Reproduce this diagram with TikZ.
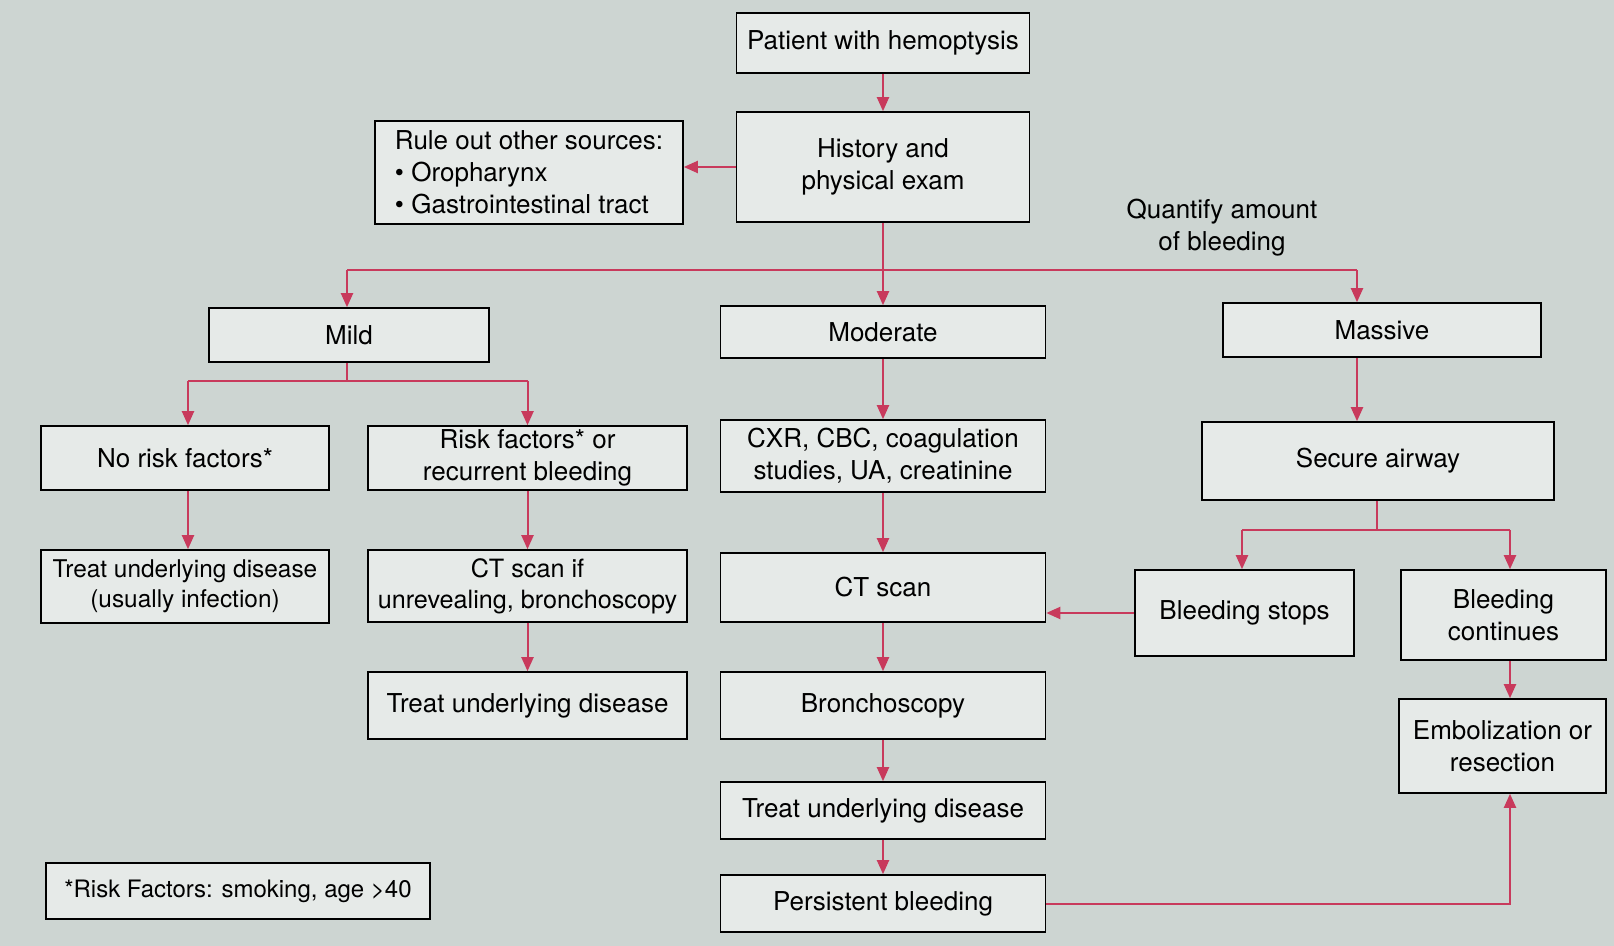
\documentclass[tikz,border=0pt]{standalone}
\usepackage{fontspec}
\setmainfont{TeX Gyre Heros}
\usetikzlibrary{arrows.meta}
\definecolor{paper}{HTML}{CDD5D2}
\definecolor{boxfill}{HTML}{E6EAE8}
\definecolor{arrowc}{HTML}{C83A5C}
\begin{document}
\begin{tikzpicture}[x=0.5pt,y=-0.5pt,
  box/.style={draw=black, line width=0.8pt, fill=boxfill, inner sep=0pt, align=center,
    font=\fontsize{13}{16}\selectfont},
  ln/.style={draw=arrowc, line width=1pt},
  arr/.style={draw=arrowc, line width=1pt, -{Triangle[length=7pt,width=6pt]}},
  lbl/.style={align=center, font=\fontsize{13}{16}\selectfont}]
\fill[paper] (0,0) rectangle (1614,946);
\useasboundingbox (0,0) rectangle (1614,946);

% top
\node[box, minimum width=146.5pt, minimum height=30pt] (patient) at (883,43) {Patient with hemoptysis};
\node[box, minimum width=146.5pt, minimum height=55pt] (history) at (883,167) {History and\\physical exam};
\node[box, minimum width=154pt, minimum height=51.5pt, align=left] (ruleout) at (529,172.5) {Rule out other sources:\\\textbullet\ Oropharynx\\\textbullet\ Gastrointestinal tract};
\node[lbl] (quantify) at (1222,228) {Quantify amount\\of bleeding};

% second row
\node[box, minimum width=140pt, minimum height=27pt] (mild) at (349,335) {Mild};
\node[box, minimum width=162.5pt, minimum height=26pt] (moderate) at (883,332) {Moderate};
\node[box, minimum width=159pt, minimum height=27pt] (massive) at (1382,330) {Massive};

% mild branch
\node[box, minimum width=144pt, minimum height=32pt] (norisk) at (185,458) {No risk factors*};
\node[box, minimum width=159.5pt, minimum height=32pt] (riskf) at (527.5,458) {Risk factors* or\\recurrent bleeding};
\node[box, minimum width=144pt, minimum height=36.5pt, font=\fontsize{12.2}{15}\selectfont] (treatinf) at (185,586.5) {Treat underlying disease\\(usually infection)};
\node[box, minimum width=159.5pt, minimum height=36pt, font=\fontsize{12.6}{15.5}\selectfont] (ctif) at (527.5,586) {CT scan if\\unrevealing, bronchoscopy};
\node[box, minimum width=159.5pt, minimum height=33.5pt] (treatL) at (527.5,705.5) {Treat underlying disease};

% moderate column
\node[box, minimum width=162.5pt, minimum height=36pt] (cxr) at (883,456) {CXR, CBC, coagulation\\studies, UA, creatinine};
\node[box, minimum width=162.5pt, minimum height=34.5pt] (ct) at (883,587.5) {CT scan};
\node[box, minimum width=162.5pt, minimum height=33.5pt] (bronch) at (883,705.5) {Bronchoscopy};
\node[box, minimum width=162.5pt, minimum height=28.5pt] (treatM) at (883,810.5) {Treat underlying disease};
\node[box, minimum width=162.5pt, minimum height=28.5pt] (persist) at (883,903.5) {Persistent bleeding};

% massive column
\node[box, minimum width=176pt, minimum height=39pt] (airway) at (1378,461) {Secure airway};
\node[box, minimum width=109.5pt, minimum height=43pt] (stops) at (1244.5,613) {Bleeding stops};
\node[box, minimum width=102.5pt, minimum height=45pt] (continues) at (1503.5,615) {Bleeding\\continues};
\node[box, minimum width=103.5pt, minimum height=47pt] (embol) at (1502.5,746) {Embolization or\\resection};

% footnote
\node[box, minimum width=192pt, minimum height=28pt, font=\fontsize{12}{15}\selectfont] (foot) at (238,891) {*Risk Factors: smoking, age >40};

% connectors
\draw[arr] (patient) -- (history);
\draw[arr] (history.west) -- (history.west -| ruleout.east);

\coordinate (jq) at (883,270);
\coordinate (jmild) at (347,270);
\coordinate (jmass) at (1357,270);
\draw[ln] (history.south) -- (jq);
\draw[ln] (jmild) -- (jmass);
\draw[arr] (jmild) -- (jmild |- mild.north);
\draw[arr] (jq) -- (moderate.north);
\draw[arr] (jmass) -- (jmass |- massive.north);

\coordinate (jm) at (347,381);
\coordinate (jnr) at (188,381);
\coordinate (jrf) at (527.5,381);
\draw[ln] (mild.south -| jm) -- (jm);
\draw[ln] (jnr) -- (jrf);
\draw[arr] (jnr) -- (jnr |- norisk.north);
\draw[arr] (jrf) -- (riskf.north);
\draw[arr] (jnr |- norisk.south) -- (jnr |- treatinf.north);
\draw[arr] (riskf) -- (ctif);
\draw[arr] (ctif) -- (treatL);

\draw[arr] (moderate) -- (cxr);
\draw[arr] (cxr) -- (ct);
\draw[arr] (ct) -- (bronch);
\draw[arr] (bronch) -- (treatM);
\draw[arr] (treatM) -- (persist);

\draw[arr] (jmass |- massive.south) -- (jmass |- airway.north);
\coordinate (ja) at (1377,530);
\coordinate (jst) at (1242,530);
\coordinate (jco) at (1510,530);
\draw[ln] (ja |- airway.south) -- (ja);
\draw[ln] (jst) -- (jco);
\draw[arr] (jst) -- (jst |- stops.north);
\draw[arr] (jco) -- (jco |- continues.north);
\draw[arr] (stops.west) -- (stops.west -| ct.east);
\draw[arr] (jco |- continues.south) -- (jco |- embol.north);
\draw[arr] (persist.east) -| (jco |- embol.south);
\end{tikzpicture}
\end{document}
